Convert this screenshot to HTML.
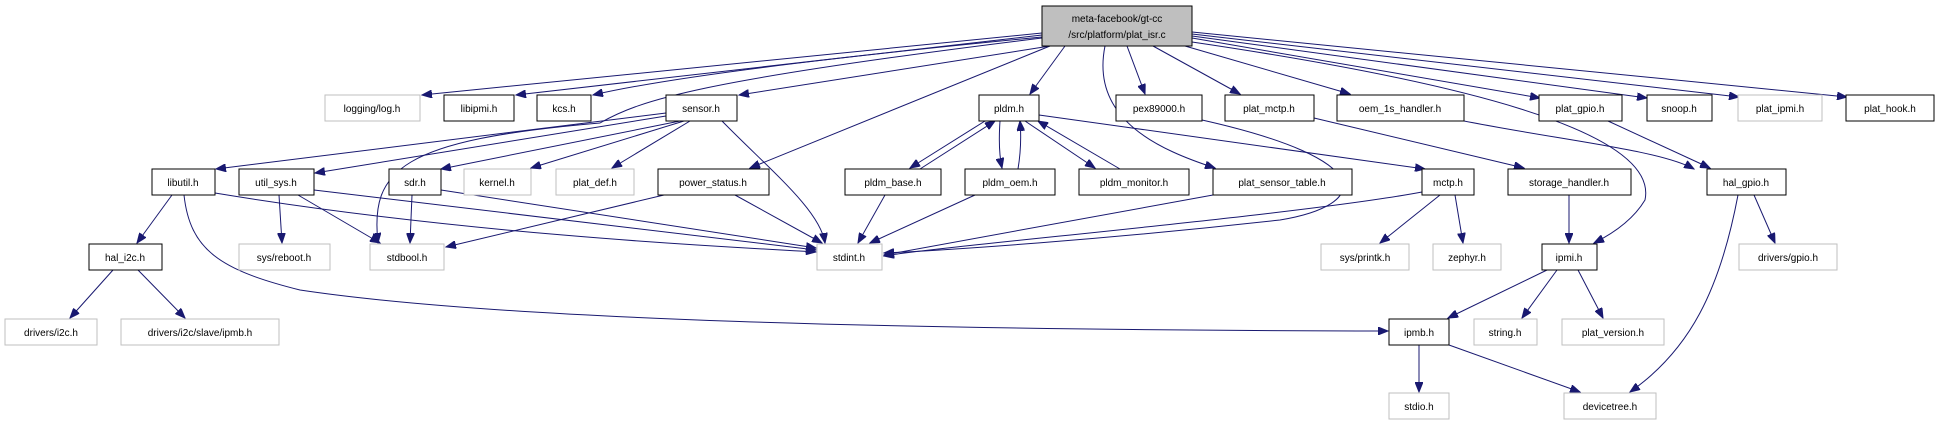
<!DOCTYPE html>
<html><head><meta charset="utf-8"><style>
html,body{margin:0;padding:0;background:#fff;}
svg{display:block;}
text{font-family:"Liberation Sans",sans-serif;font-size:10px;text-anchor:middle;fill:#000;}
.b{fill:#fff;stroke:#000;stroke-width:1;}
.g{fill:#fff;stroke:#bfbfbf;stroke-width:1;}
.e{fill:none;stroke:#191970;stroke-width:1;marker-end:url(#a);}
</style></head><body>
<svg width="1945" height="425" viewBox="0 0 1945 425" xmlns="http://www.w3.org/2000/svg">
<defs><marker id="a" markerUnits="userSpaceOnUse" markerWidth="11" markerHeight="8" refX="10" refY="4" orient="auto"><path d="M0,0 L10,4 L0,8 z" fill="#191970" stroke="#191970"/></marker></defs>
<g>
<path class="e" d="M1042,33 L422,95"/>
<path class="e" d="M1042,35 L516,95"/>
<path class="e" d="M1042,37 Q700,70 593,95"/>
<path class="e" d="M1050,46 L739,95"/>
<path class="e" d="M1042,38 C700,80 640,100 600,123 C400,140 370,170 378,243"/>
<path class="e" d="M1050,46 L750,168"/>
<path class="e" d="M1065,46 L1030,94"/>
<path class="e" d="M1105,46 C1090,120 1160,150 1215,168"/>
<path class="e" d="M1127,46 L1145,94"/>
<path class="e" d="M1153,46 L1240,94"/>
<path class="e" d="M1185,46 L1350,94"/>
<path class="e" d="M1192,42 C1450,80 1660,130 1645,200 Q1630,225 1594,243"/>
<path class="e" d="M1192,38 L1540,98"/>
<path class="e" d="M1192,36 L1647,98"/>
<path class="e" d="M1192,34 L1739,97"/>
<path class="e" d="M1192,32 L1847,97"/>
<path class="e" d="M1314,118 L1524,168"/>
<path class="e" d="M1202,120 C1380,160 1370,205 1280,220 C1100,240 950,250 884,253"/>
<path class="e" d="M1213,195 L884,255"/>
<path class="e" d="M1422,192 C1300,215 950,245 884,256"/>
<path class="e" d="M1039,115 L1425,169"/>
<path class="e" d="M975,195 L870,243"/>
<path class="e" d="M885,195 L858,243"/>
<path class="e" d="M985,121 L910,168"/>
<path class="e" d="M920,169 L995,121"/>
<path class="e" d="M1000,121 Q998,150 1002,168"/>
<path class="e" d="M1018,169 Q1022,145 1020,121"/>
<path class="e" d="M1025,121 L1095,168"/>
<path class="e" d="M1120,169 L1038,121"/>
<path class="e" d="M1440,195 L1380,243"/>
<path class="e" d="M1455,195 L1463,243"/>
<path class="e" d="M1569,195 L1569,243"/>
<path class="e" d="M1608,121 L1710,168"/>
<path class="e" d="M1464,121 C1560,140 1660,150 1694,169"/>
<path class="e" d="M1754,195 L1775,243"/>
<path class="e" d="M1738,195 C1720,290 1690,350 1630,392"/>
<path class="e" d="M1547,270 L1448,318"/>
<path class="e" d="M1557,270 L1522,318"/>
<path class="e" d="M1578,270 L1603,318"/>
<path class="e" d="M1419,345 L1419,392"/>
<path class="e" d="M1449,345 L1580,392"/>
<path class="e" d="M172,195 L137,243"/>
<path class="e" d="M184,195 C190,250 220,270 300,290 C500,320 900,330 1388,331"/>
<path class="e" d="M215,193 C500,240 800,250 816,252"/>
<path class="e" d="M279,195 L282,243"/>
<path class="e" d="M298,195 L380,243"/>
<path class="e" d="M314,190 L816,250"/>
<path class="e" d="M666,113 L216,169"/>
<path class="e" d="M666,116 L315,173"/>
<path class="e" d="M680,121 L441,169"/>
<path class="e" d="M684,121 L531,168"/>
<path class="e" d="M690,121 L612,168"/>
<path class="e" d="M722,121 C770,170 820,210 825,243"/>
<path class="e" d="M412,195 L410,243"/>
<path class="e" d="M441,190 L816,248"/>
<path class="e" d="M664,195 L446,247"/>
<path class="e" d="M735,195 L822,243"/>
<path class="e" d="M113,270 L70,318"/>
<path class="e" d="M138,270 L185,318"/>
</g>
<g>
<rect x="1042" y="6" width="150" height="40" fill="#bfbfbf" stroke="#000"/>
<text x="1117" y="22">meta-facebook/gt-cc</text><text x="1117" y="38">/src/platform/plat_isr.c</text>
<rect class="g" x="325" y="95" width="95" height="26"/><text x="372" y="112">logging/log.h</text>
<rect class="b" x="444" y="95" width="70" height="26"/><text x="479" y="112">libipmi.h</text>
<rect class="b" x="537" y="95" width="54" height="26"/><text x="564" y="112">kcs.h</text>
<rect class="b" x="666" y="95" width="71" height="26"/><text x="701" y="112">sensor.h</text>
<rect class="b" x="979" y="95" width="60" height="26"/><text x="1009" y="112">pldm.h</text>
<rect class="b" x="1116" y="95" width="86" height="26"/><text x="1159" y="112">pex89000.h</text>
<rect class="b" x="1225" y="95" width="89" height="26"/><text x="1269" y="112">plat_mctp.h</text>
<rect class="b" x="1337" y="95" width="127" height="26"/><text x="1400" y="112">oem_1s_handler.h</text>
<rect class="b" x="1539" y="95" width="83" height="26"/><text x="1580" y="112">plat_gpio.h</text>
<rect class="b" x="1647" y="95" width="65" height="26"/><text x="1679" y="112">snoop.h</text>
<rect class="g" x="1738" y="95" width="84" height="26"/><text x="1780" y="112">plat_ipmi.h</text>
<rect class="b" x="1846" y="95" width="88" height="26"/><text x="1890" y="112">plat_hook.h</text>
<rect class="b" x="152" y="169" width="63" height="26"/><text x="183" y="186">libutil.h</text>
<rect class="b" x="239" y="169" width="75" height="26"/><text x="276" y="186">util_sys.h</text>
<rect class="b" x="389" y="169" width="52" height="26"/><text x="415" y="186">sdr.h</text>
<rect class="g" x="464" y="169" width="67" height="26"/><text x="497" y="186">kernel.h</text>
<rect class="g" x="556" y="169" width="78" height="26"/><text x="595" y="186">plat_def.h</text>
<rect class="b" x="658" y="169" width="111" height="26"/><text x="713" y="186">power_status.h</text>
<rect class="b" x="845" y="169" width="96" height="26"/><text x="893" y="186">pldm_base.h</text>
<rect class="b" x="965" y="169" width="90" height="26"/><text x="1010" y="186">pldm_oem.h</text>
<rect class="b" x="1079" y="169" width="110" height="26"/><text x="1134" y="186">pldm_monitor.h</text>
<rect class="b" x="1213" y="169" width="139" height="26"/><text x="1282" y="186">plat_sensor_table.h</text>
<rect class="b" x="1422" y="169" width="52" height="26"/><text x="1448" y="186">mctp.h</text>
<rect class="b" x="1508" y="169" width="123" height="26"/><text x="1569" y="186">storage_handler.h</text>
<rect class="b" x="1707" y="169" width="79" height="26"/><text x="1746" y="186">hal_gpio.h</text>
<rect class="b" x="89" y="244" width="73" height="26"/><text x="125" y="261">hal_i2c.h</text>
<rect class="g" x="239" y="244" width="91" height="26"/><text x="284" y="261">sys/reboot.h</text>
<rect class="g" x="370" y="244" width="74" height="26"/><text x="407" y="261">stdbool.h</text>
<rect class="g" x="817" y="244" width="65" height="26"/><text x="849" y="261">stdint.h</text>
<rect class="g" x="1321" y="244" width="88" height="26"/><text x="1365" y="261">sys/printk.h</text>
<rect class="g" x="1433" y="244" width="68" height="26"/><text x="1467" y="261">zephyr.h</text>
<rect class="b" x="1542" y="244" width="55" height="26"/><text x="1569" y="261">ipmi.h</text>
<rect class="g" x="1739" y="244" width="98" height="26"/><text x="1788" y="261">drivers/gpio.h</text>
<rect class="g" x="5" y="319" width="92" height="26"/><text x="51" y="336">drivers/i2c.h</text>
<rect class="g" x="121" y="319" width="158" height="26"/><text x="200" y="336">drivers/i2c/slave/ipmb.h</text>
<rect class="b" x="1389" y="319" width="60" height="26"/><text x="1419" y="336">ipmb.h</text>
<rect class="g" x="1474" y="319" width="63" height="26"/><text x="1505" y="336">string.h</text>
<rect class="g" x="1562" y="319" width="102" height="26"/><text x="1613" y="336">plat_version.h</text>
<rect class="g" x="1389" y="393" width="60" height="26"/><text x="1419" y="410">stdio.h</text>
<rect class="g" x="1564" y="393" width="92" height="26"/><text x="1610" y="410">devicetree.h</text>
</g>
</svg>
</body></html>
